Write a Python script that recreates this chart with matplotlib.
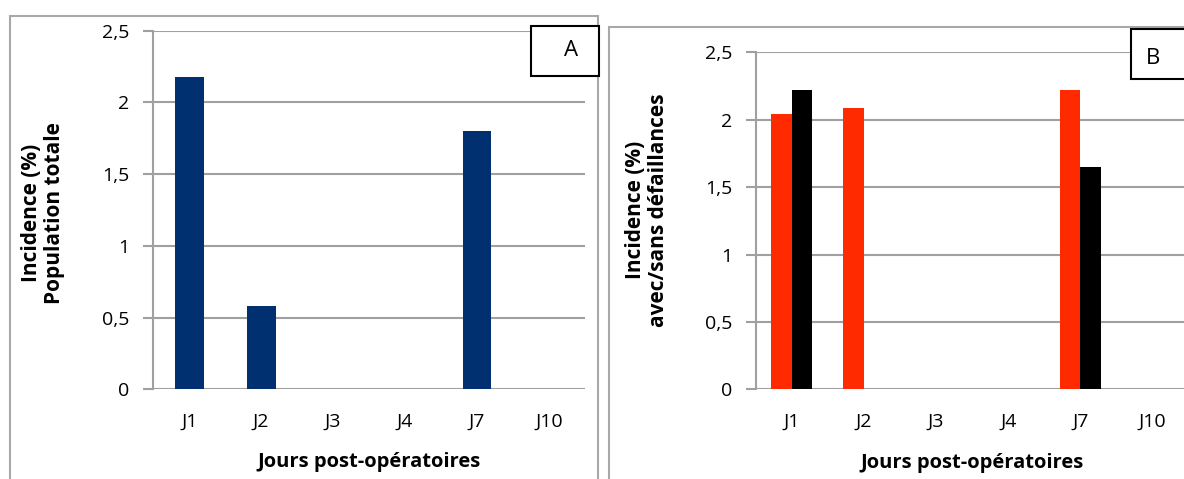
import matplotlib
matplotlib.use("Agg")
import matplotlib.pyplot as plt
from matplotlib.patches import Rectangle
import numpy as np

plt.rcParams['font.family'] = ['Open Sans', 'DejaVu Sans']

# ---- data ----
categories = ["J1", "J2", "J3", "J4", "J7", "J10"]
pop_totale = [2.18, 0.58, 0, 0, 1.80, 0]
avec_defaillances = [2.04, 2.09, 0, 0, 2.22, 0]
sans_defaillances = [2.22, 0, 0, 0, 1.65, 0]
yticks = [0, 0.5, 1, 1.5, 2, 2.5]
ytick_labels = ["0", "0,5", "1", "1,5", "2", "2,5"]

W, H = 1184, 479
fig = plt.figure(figsize=(W / 100, H / 100), dpi=100)

def fx(px):
    return px / W

def fy(py):
    return 1 - py / H

GRID = "#a0a0a0"
FRAME = "#a8a8a8"
NAVY = "#00306f"
RED = "#ff2a00"
BLACK = "#000000"

# panel frames
fig.patches.append(Rectangle((fx(9.5), fy(495)), fx(598.3 - 9.5), (495 - 16) / H,
                             transform=fig.transFigure, fill=False,
                             edgecolor=FRAME, linewidth=1.5, zorder=0))
fig.patches.append(Rectangle((fx(609), fy(495)), fx(1220 - 609), (495 - 26.7) / H,
                             transform=fig.transFigure, fill=False,
                             edgecolor=FRAME, linewidth=1.5, zorder=0))


def style_axes(ax):
    ax.set_ylim(0, 2.5)
    ax.set_xlim(-0.5, len(categories) - 0.5)
    ax.set_yticks(yticks)
    ax.set_yticklabels(ytick_labels)
    ax.set_xticks(np.arange(len(categories)))
    ax.set_xticklabels(categories)
    ax.tick_params(axis='x', length=0, pad=17, labelsize=14)
    ax.tick_params(axis='y', length=7, width=1.5, color=GRID, pad=10, labelsize=14)
    for s in ['top', 'right', 'bottom']:
        ax.spines[s].set_visible(False)
    ax.spines['left'].set_color(GRID)
    ax.spines['left'].set_linewidth(1.5)
    ax.grid(axis='y', color=GRID, linewidth=1.5)
    ax.set_axisbelow(True)
    ax.patch.set_alpha(0)


x = np.arange(len(categories))

# Panel A
axA = fig.add_axes([fx(153.3), fy(389.3), fx(585 - 153.3), (389.3 - 30.7) / H])
style_axes(axA)
axA.bar(x, pop_totale, width=0.4, color=NAVY, zorder=3)
axA.set_xlabel("Jours post-opératoires", fontsize=14.5, fontweight='bold', labelpad=15)
fig.text(fx(43), fy(213), "Incidence (%)\nPopulation totale", rotation=90,
         ha='center', va='center', fontsize=15, fontweight='bold', linespacing=1.1)

# Panel B
axB = fig.add_axes([fx(755.7), fy(389.3), fx(1188.6 - 755.7), (389.3 - 52.3) / H])
style_axes(axB)
bw = 0.287
axB.bar(x - bw / 2, avec_defaillances, width=bw, color=RED, zorder=3)
axB.bar(x + bw / 2, sans_defaillances, width=bw, color=BLACK, zorder=3)
axB.set_xlabel("Jours post-opératoires", fontsize=14.5, fontweight='bold', labelpad=16)
fig.text(fx(647), fy(210), "Incidence (%)\navec/sans défaillances", rotation=90,
         ha='center', va='center', fontsize=15, fontweight='bold', linespacing=1.1)

# label boxes
fig.patches.append(Rectangle((fx(531), fy(75.7)), fx(599.3 - 531), (75.7 - 26) / H,
                             transform=fig.transFigure, facecolor='white',
                             edgecolor='black', linewidth=1.5, zorder=5))
fig.text(fx(571), fy(51), "A", ha='center', va='center', fontsize=16, zorder=6)
fig.patches.append(Rectangle((fx(1130.7), fy(78.7)), fx(1230 - 1130.7), (78.7 - 29.3) / H,
                             transform=fig.transFigure, facecolor='white',
                             edgecolor='black', linewidth=1.5, zorder=5))
fig.text(fx(1153), fy(59), "B", ha='center', va='center', fontsize=16, zorder=6)

fig.savefig("out.png", dpi=100)
